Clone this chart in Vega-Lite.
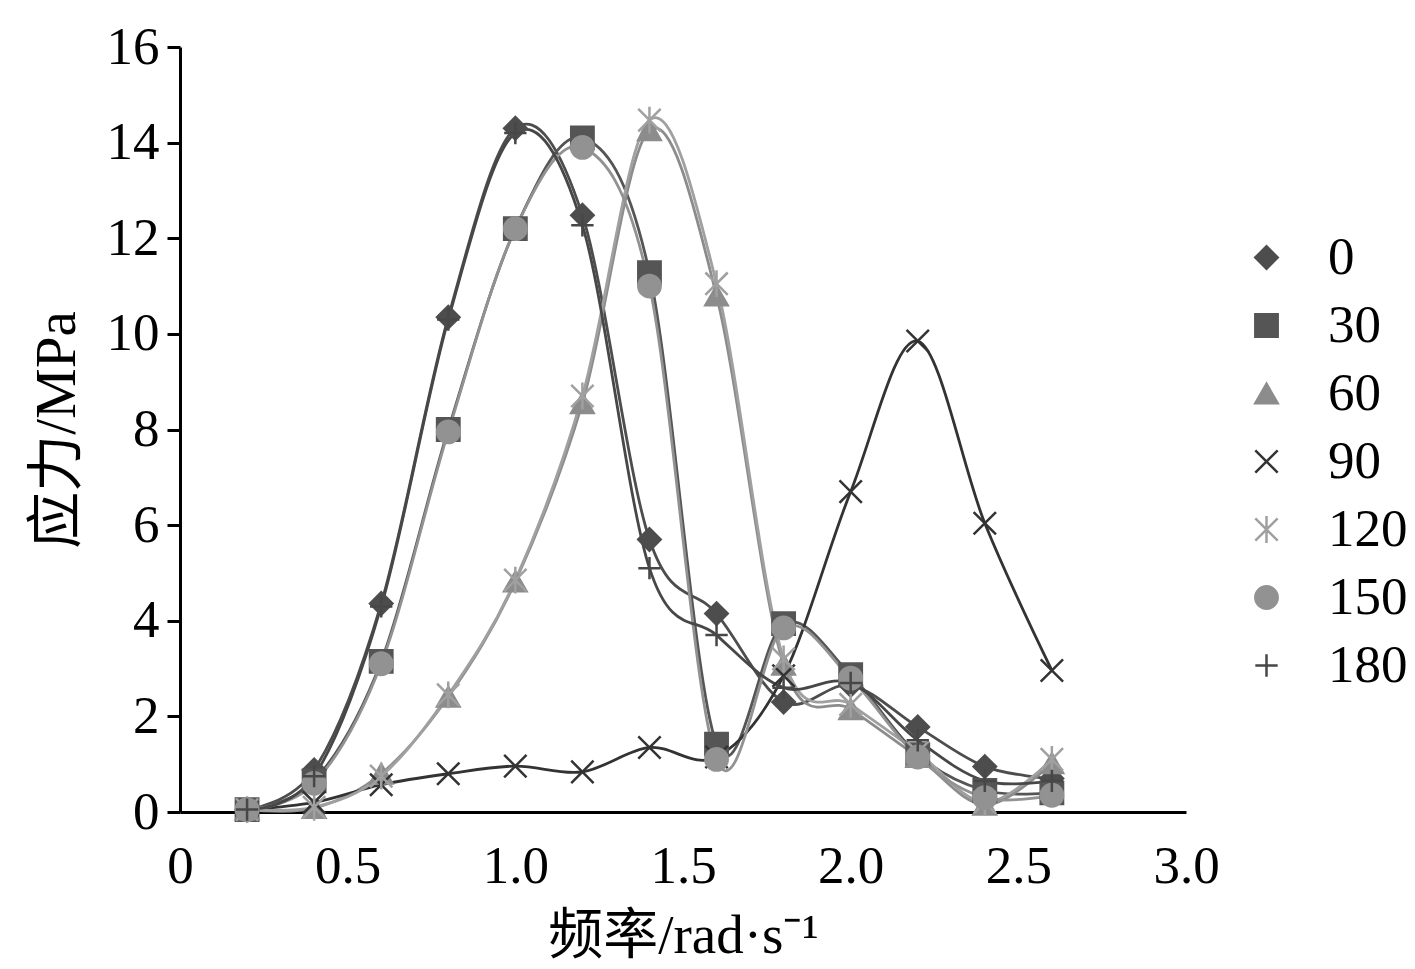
{
  "$schema": "https://vega.github.io/schema/vega-lite/v6.json",
  "width": 1006,
  "height": 765,
  "autosize": {"type": "none"},
  "padding": {"left": 180, "top": 47, "right": 229, "bottom": 157},
  "background": "white",
  "config": {"view": {"stroke": null}, "font": "Liberation Serif"},
  "data": {"values": [
    {"series":"0","freq":0.2,"stress":0.05},{"series":"0","freq":0.4,"stress":0.88},{"series":"0","freq":0.6,"stress":4.36},{"series":"0","freq":0.8,"stress":10.35},{"series":"0","freq":1.0,"stress":14.3},{"series":"0","freq":1.2,"stress":12.48},{"series":"0","freq":1.4,"stress":5.7},{"series":"0","freq":1.6,"stress":4.15},{"series":"0","freq":1.8,"stress":2.3},{"series":"0","freq":2.0,"stress":2.65},{"series":"0","freq":2.2,"stress":1.78},{"series":"0","freq":2.4,"stress":0.95},{"series":"0","freq":2.6,"stress":0.7},
    {"series":"30","freq":0.2,"stress":0.05},{"series":"30","freq":0.4,"stress":0.65},{"series":"30","freq":0.6,"stress":3.15},{"series":"30","freq":0.8,"stress":8.0},{"series":"30","freq":1.0,"stress":12.2},{"series":"30","freq":1.2,"stress":14.1},{"series":"30","freq":1.4,"stress":11.28},{"series":"30","freq":1.6,"stress":1.42},{"series":"30","freq":1.8,"stress":3.94},{"series":"30","freq":2.0,"stress":2.87},{"series":"30","freq":2.2,"stress":1.2},{"series":"30","freq":2.4,"stress":0.45},{"series":"30","freq":2.6,"stress":0.4},
    {"series":"60","freq":0.2,"stress":0.05},{"series":"60","freq":0.4,"stress":0.08},{"series":"60","freq":0.6,"stress":0.8},{"series":"60","freq":0.8,"stress":2.41},{"series":"60","freq":1.0,"stress":4.82},{"series":"60","freq":1.2,"stress":8.55},{"series":"60","freq":1.4,"stress":14.26},{"series":"60","freq":1.6,"stress":10.8},{"series":"60","freq":1.8,"stress":3.08},{"series":"60","freq":2.0,"stress":2.15},{"series":"60","freq":2.2,"stress":1.15},{"series":"60","freq":2.4,"stress":0.15},{"series":"60","freq":2.6,"stress":1.02},
    {"series":"90","freq":0.2,"stress":0.05},{"series":"90","freq":0.4,"stress":0.2},{"series":"90","freq":0.6,"stress":0.57},{"series":"90","freq":0.8,"stress":0.8},{"series":"90","freq":1.0,"stress":0.96},{"series":"90","freq":1.2,"stress":0.84},{"series":"90","freq":1.4,"stress":1.35},{"series":"90","freq":1.6,"stress":1.15},{"series":"90","freq":1.8,"stress":2.85},{"series":"90","freq":2.0,"stress":6.7},{"series":"90","freq":2.2,"stress":9.85},{"series":"90","freq":2.4,"stress":6.04},{"series":"90","freq":2.6,"stress":2.96},
    {"series":"120","freq":0.2,"stress":0.05},{"series":"120","freq":0.4,"stress":0.1},{"series":"120","freq":0.6,"stress":0.75},{"series":"120","freq":0.8,"stress":2.45},{"series":"120","freq":1.0,"stress":4.85},{"series":"120","freq":1.2,"stress":8.7},{"series":"120","freq":1.4,"stress":14.47},{"series":"120","freq":1.6,"stress":11.05},{"series":"120","freq":1.8,"stress":3.2},{"series":"120","freq":2.0,"stress":2.25},{"series":"120","freq":2.2,"stress":1.25},{"series":"120","freq":2.4,"stress":0.2},{"series":"120","freq":2.6,"stress":1.1},
    {"series":"150","freq":0.2,"stress":0.05},{"series":"150","freq":0.4,"stress":0.6},{"series":"150","freq":0.6,"stress":3.1},{"series":"150","freq":0.8,"stress":7.95},{"series":"150","freq":1.0,"stress":12.2},{"series":"150","freq":1.2,"stress":13.9},{"series":"150","freq":1.4,"stress":11.0},{"series":"150","freq":1.6,"stress":1.1},{"series":"150","freq":1.8,"stress":3.85},{"series":"150","freq":2.0,"stress":2.8},{"series":"150","freq":2.2,"stress":1.15},{"series":"150","freq":2.4,"stress":0.3},{"series":"150","freq":2.6,"stress":0.35},
    {"series":"180","freq":0.2,"stress":0.05},{"series":"180","freq":0.4,"stress":0.75},{"series":"180","freq":0.6,"stress":4.3},{"series":"180","freq":0.8,"stress":10.3},{"series":"180","freq":1.0,"stress":14.2},{"series":"180","freq":1.2,"stress":12.27},{"series":"180","freq":1.4,"stress":5.1},{"series":"180","freq":1.6,"stress":3.7},{"series":"180","freq":1.8,"stress":2.6},{"series":"180","freq":2.0,"stress":2.7},{"series":"180","freq":2.2,"stress":1.5},{"series":"180","freq":2.4,"stress":0.65},{"series":"180","freq":2.6,"stress":0.65}
  ]},
  "encoding": {
    "x": {"field": "freq", "type": "quantitative",
      "scale": {"domain": [0, 3], "nice": false, "zero": false},
      "axis": {"values": [0, 0.5, 1, 1.5, 2, 2.5, 3], "labelExpr": "datum.value == 0 ? '0' : format(datum.value, '.1f')",
        "ticks": false, "tickSize": 0, "labelPadding": 28, "labelFontSize": 53, "labelFont": "Liberation Serif", "labelColor": "black",
        "labelFlush": false, "labelOverlap": false, "grid": false, "domainColor": "black", "domainWidth": 3,
        "title": "频率/rad·s⁻¹", "titleFont": "Liberation Serif, Noto Sans CJK SC", "titleFontSize": 55, "titleFontWeight": "normal", "titleColor": "black", "titlePadding": 16}},
    "y": {"field": "stress", "type": "quantitative",
      "scale": {"domain": [0, 16], "nice": false},
      "axis": {"values": [0, 2, 4, 6, 8, 10, 12, 14, 16], "tickSize": 13, "tickWidth": 3, "tickColor": "black",
        "labelPadding": 8, "labelFontSize": 53, "labelFont": "Liberation Serif", "labelColor": "black", "labelFlush": false, "labelOverlap": false,
        "grid": false, "domainColor": "black", "domainWidth": 3,
        "title": "应力/MPa", "titleFont": "Liberation Serif, Noto Sans CJK SC", "titleFontSize": 57, "titleFontWeight": "normal", "titleColor": "black", "titlePadding": 20}},
    "color": {"field": "series", "type": "nominal",
      "scale": {"domain": ["0", "30", "60", "90", "120", "150", "180"], "range": ["#4d4d4d", "#555555", "#8c8c8c", "#333333", "#a0a0a0", "#929292", "#474747"]},
      "legend": {"orient": "none", "legendX": 1060, "legendY": 184, "title": null, "padding": 0,
        "symbolSize": 500, "symbolStrokeWidth": 2.5, "labelFontSize": 53, "labelFont": "Liberation Serif", "labelColor": "black", "labelOffset": 35, "rowPadding": 14}}
  },
  "layer": [
    {"mark": {"type": "line", "interpolate": "cardinal", "tension": 0, "strokeWidth": 2.8}},
    {"mark": {"type": "point", "filled": true, "size": 500, "strokeWidth": 2.5, "opacity": 1},
     "encoding": {
       "shape": {"field": "series", "type": "nominal", "legend": null,
         "scale": {"domain": ["0", "30", "60", "90", "120", "150", "180"], "range": ["diamond", "square", "triangle-up", "M-1,-1L1,1M-1,1L1,-1", "M-1,-1L1,1M-1,1L1,-1M0,-1.2L0,1.2", "circle", "M-1,0L1,0M0,-1L0,1"]}},
       "stroke": {"field": "series", "type": "nominal", "legend": null,
         "scale": {"domain": ["0", "30", "60", "90", "120", "150", "180"], "range": ["#4d4d4d", "#555555", "#8c8c8c", "#333333", "#a0a0a0", "#929292", "#474747"]}}
     }}
  ]
}
